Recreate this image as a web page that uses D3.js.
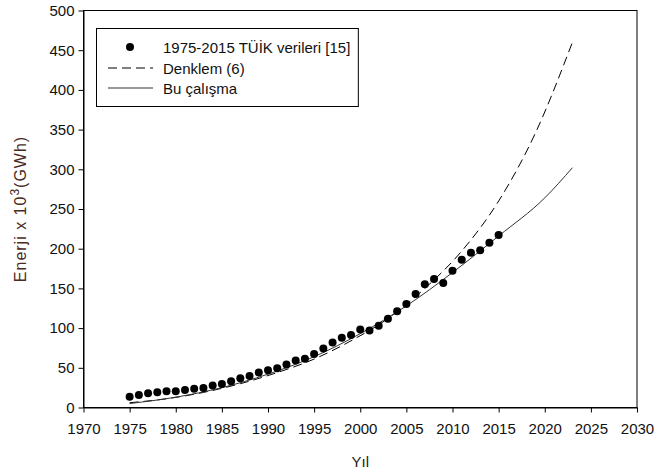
<!DOCTYPE html>
<html>
<head>
<meta charset="utf-8">
<script src="https://cdn.jsdelivr.net/npm/d3@7"></script>
<style>
  html, body { margin: 0; padding: 0; background: #fff; }
  svg text { font-family: "Liberation Sans", Arial, sans-serif; }
</style>
</head>
<body>
<svg id="chart" width="654" height="474"></svg>
<script>
// Yıllık brüt elektrik tüketimi (TÜİK), 10^3 GWh
const years = [1975,1976,1977,1978,1979,1980,1981,1982,1983,1984,1985,1986,1987,1988,1989,
  1990,1991,1992,1993,1994,1995,1996,1997,1998,1999,2000,2001,2002,2003,2004,2005,
  2006,2007,2008,2009,2010,2011,2012,2013,2014,2015];
const tuikValues = [13.5,15.6,18.0,19.2,20.5,20.4,22.0,23.6,24.5,27.6,29.7,33.0,36.7,39.7,44.0,
  46.8,49.3,54.0,59.2,61.4,67.4,74.2,81.9,87.7,91.2,98.3,97.1,102.9,111.8,121.1,130.3,
  143.1,155.1,161.9,156.9,172.1,186.1,194.9,198.0,207.4,217.3];

// Denklem (6) eğrisi
const denklemYears  = [1975,1979,1983,1987,1991,1995,1999,2003,2007,2011,2015,2019,2023];
const denklemValues = [6,11,19,30,44,61,84,112,150,197,260,346,460];

// Bu çalışmanın modeli
const modelYears  = [1975,1980,1985,1990,1995,2000,2005,2010,2015,2020,2023];
const modelValues = [5,13,25,42,64,93,128,170,216,264,302];

const xTicks = [1970,1975,1980,1985,1990,1995,2000,2005,2010,2015,2020,2025,2030];
const yTicks = [0,50,100,150,200,250,300,350,400,450,500];

const legendLabels = ["1975-2015 TÜİK verileri [15]", "Denklem (6)", "Bu çalışma"];

const svg = d3.select("#chart");
const plotLeft = 83.5, plotRight = 637, plotTop = 10.5, plotBottom = 407.5;

const x = d3.scaleLinear().domain([1970, 2030]).range([plotLeft, plotRight]);
const y = d3.scaleLinear().domain([0, 500]).range([plotBottom, plotTop]);

// frame
svg.append("rect")
  .attr("x", plotLeft).attr("y", plotTop)
  .attr("width", plotRight - plotLeft).attr("height", plotBottom - plotTop)
  .attr("fill", "none").attr("stroke", "#000").attr("stroke-width", 1);

const fontSize = 15;

const xAxis = svg.append("g")
  .attr("transform", `translate(0,${plotBottom})`)
  .call(d3.axisBottom(x).tickValues(xTicks).tickFormat(d3.format("d")).tickSizeInner(5).tickSizeOuter(0).tickPadding(11));
const yAxis = svg.append("g")
  .attr("transform", `translate(${plotLeft},0)`)
  .call(d3.axisLeft(y).tickValues(yTicks).tickSizeInner(5).tickSizeOuter(0).tickPadding(4));
[xAxis, yAxis].forEach(g => {
  g.select(".domain").attr("stroke", "#000");
  g.selectAll(".tick line").attr("stroke", "#000");
  g.selectAll(".tick text").attr("fill", "#111").style("font-size", fontSize + "px");
});

// axis titles
svg.append("text")
  .attr("x", (plotLeft + plotRight) / 2).attr("y", 467)
  .attr("text-anchor", "middle").attr("fill", "#222")
  .style("font-size", fontSize + "px").text("Yıl");

const yTitle = svg.append("text")
  .attr("transform", `translate(26,${(plotTop + plotBottom) / 2}) rotate(-90)`)
  .attr("text-anchor", "middle").attr("fill", "#4b2b22")
  .style("font-size", "16px").style("letter-spacing", "1px");
yTitle.append("tspan").text("Enerji  x 10");
yTitle.append("tspan").attr("dy", -7).style("font-size", "12px").text("3");
yTitle.append("tspan").attr("dy", 7).text("(GWh)");

// curves
const curveLine = d3.line().x(d => x(d[0])).y(d => y(d[1])).curve(d3.curveMonotoneX);
svg.append("path")
  .datum(d3.zip(denklemYears, denklemValues))
  .attr("d", curveLine)
  .attr("fill", "none").attr("stroke", "#000").attr("stroke-width", 1)
  .attr("stroke-dasharray", "9,5");

svg.append("path")
  .datum(d3.zip(modelYears, modelValues))
  .attr("d", curveLine)
  .attr("fill", "none").attr("stroke", "#333").attr("stroke-width", 1);

// data points
svg.append("g").selectAll("circle")
  .data(d3.zip(years, tuikValues))
  .join("circle")
  .attr("cx", d => x(d[0])).attr("cy", d => y(d[1]))
  .attr("r", 4).attr("fill", "#000");

// legend
const legend = svg.append("g");
const legendBox = legend.append("rect")
  .attr("x", 96.5).attr("y", 28.5).attr("height", 78)
  .attr("fill", "#fff").attr("stroke", "#000").attr("stroke-width", 1);
const rowY = [47, 68, 88];
legend.append("circle").attr("cx", 130).attr("cy", rowY[0]).attr("r", 4).attr("fill", "#000");
legend.append("line").attr("x1", 108).attr("x2", 153).attr("y1", rowY[1]).attr("y2", rowY[1])
  .attr("stroke", "#000").attr("stroke-dasharray", "9,5");
legend.append("line").attr("x1", 108).attr("x2", 153).attr("y1", rowY[2]).attr("y2", rowY[2])
  .attr("stroke", "#333");
const labels = legend.selectAll("text.lbl")
  .data(legendLabels).join("text").attr("class", "lbl")
  .attr("x", 163).attr("y", (d, i) => rowY[i] + 5.5)
  .attr("fill", "#111").style("font-size", fontSize + "px")
  .text(d => d);
let maxRight = 0;
labels.each(function () { const b = this.getBBox(); maxRight = Math.max(maxRight, b.x + b.width); });
legendBox.attr("width", maxRight + 8 - 96.5);
</script>
</body>
</html>
